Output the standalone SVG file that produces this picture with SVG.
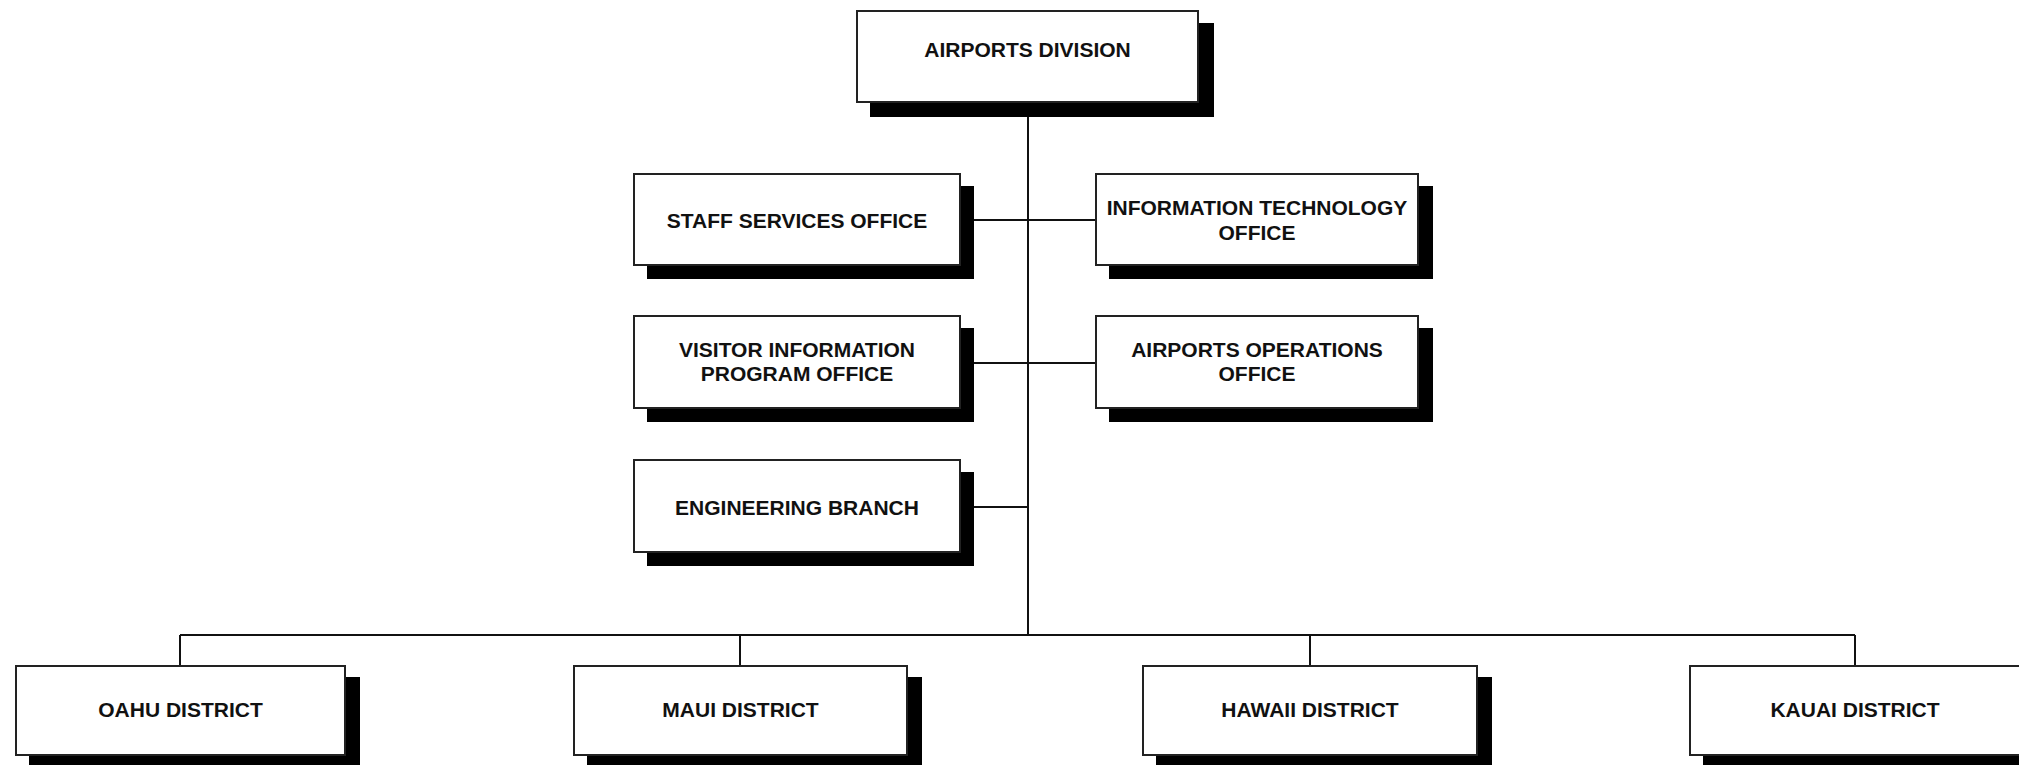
<svg xmlns="http://www.w3.org/2000/svg" width="2019" height="765" viewBox="0 0 2019 765">
<style>
.box{fill:#fff;stroke:#222;stroke-width:2}
.sh{fill:#000}
.t{font-family:"Liberation Sans",Arial,sans-serif;font-weight:bold;font-size:21px;fill:#111;text-anchor:middle}
.ln{stroke:#111;stroke-width:2;fill:none}
</style>
<rect width="2019" height="765" fill="#fff"/>
<g id="connectors">
<line class="ln" x1="1028" y1="102" x2="1028" y2="635"/>
<line class="ln" x1="974" y1="220" x2="1096" y2="220"/>
<line class="ln" x1="974" y1="363" x2="1096" y2="363"/>
<line class="ln" x1="974" y1="507" x2="1028" y2="507"/>
<line class="ln" x1="180" y1="635" x2="1855" y2="635"/>
<line class="ln" x1="180" y1="635" x2="180" y2="666"/>
<line class="ln" x1="740" y1="635" x2="740" y2="666"/>
<line class="ln" x1="1310" y1="635" x2="1310" y2="666"/>
<line class="ln" x1="1855" y1="635" x2="1855" y2="666"/>
</g>
<g id="airports-division">
<rect class="sh" x="870" y="23" width="344" height="94"/>
<rect class="box" x="857" y="11" width="341" height="91"/>
<text class="t" x="1027.5" y="56.5">AIRPORTS DIVISION</text>
</g>
<g id="staff-services">
<rect class="sh" x="647" y="186" width="327" height="93"/>
<rect class="box" x="634" y="174" width="326" height="91"/>
<text class="t" x="797" y="227.5">STAFF SERVICES OFFICE</text>
</g>
<g id="it-office">
<rect class="sh" x="1109" y="186" width="324" height="93"/>
<rect class="box" x="1096" y="174" width="322" height="91"/>
<text class="t" x="1257" y="214.5">INFORMATION TECHNOLOGY</text>
<text class="t" x="1257" y="239.5">OFFICE</text>
</g>
<g id="visitor-info">
<rect class="sh" x="647" y="328" width="327" height="94"/>
<rect class="box" x="634" y="316" width="326" height="92"/>
<text class="t" x="797" y="356.5">VISITOR INFORMATION</text>
<text class="t" x="797" y="381">PROGRAM OFFICE</text>
</g>
<g id="airports-ops">
<rect class="sh" x="1109" y="328" width="324" height="94"/>
<rect class="box" x="1096" y="316" width="322" height="92"/>
<text class="t" x="1257" y="356.5">AIRPORTS OPERATIONS</text>
<text class="t" x="1257" y="381">OFFICE</text>
</g>
<g id="engineering">
<rect class="sh" x="647" y="472" width="327" height="94"/>
<rect class="box" x="634" y="460" width="326" height="92"/>
<text class="t" x="797" y="514.5">ENGINEERING BRANCH</text>
</g>
<g id="oahu">
<rect class="sh" x="29" y="677" width="331" height="92"/>
<rect class="box" x="16" y="666" width="329" height="89"/>
<text class="t" x="180.5" y="717">OAHU DISTRICT</text>
</g>
<g id="maui">
<rect class="sh" x="587" y="677" width="335" height="92"/>
<rect class="box" x="574" y="666" width="333" height="89"/>
<text class="t" x="740.5" y="717">MAUI DISTRICT</text>
</g>
<g id="hawaii">
<rect class="sh" x="1156" y="677" width="336" height="92"/>
<rect class="box" x="1143" y="666" width="334" height="89"/>
<text class="t" x="1310" y="717">HAWAII DISTRICT</text>
</g>
<g id="kauai">
<rect class="sh" x="1703" y="677" width="336" height="92"/>
<rect class="box" x="1690" y="666" width="334" height="89"/>
<text class="t" x="1855" y="717">KAUAI DISTRICT</text>
</g>
</svg>
